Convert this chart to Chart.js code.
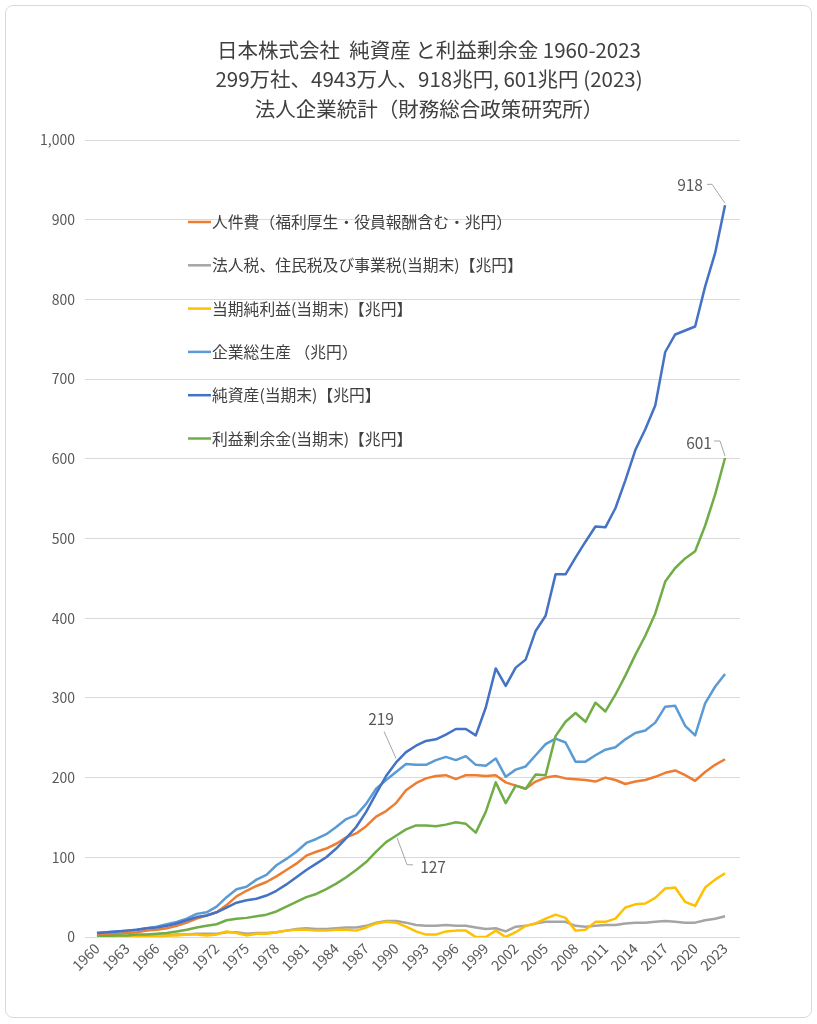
<!DOCTYPE html>
<html lang="ja">
<head>
<meta charset="UTF-8">
<title>日本株式会社 純資産と利益剰余金 1960-2023</title>
<script src="https://cdn.jsdelivr.net/npm/chart.js"></script>
<style>
  body { margin: 0; background: #fff; }
  .marco { position: relative; width: 817px; height: 1024px; }
  .borde { position: absolute; left: 5px; top: 5px; width: 805px; height: 1011px;
           border: 1px solid #d9d9d9; border-radius: 8px; pointer-events: none; }
  canvas { position: absolute; left: 0; top: 0; }
</style>
</head>
<body>
<div class="marco">
  <canvas id="graficoJapon"></canvas>
  <div class="borde"></div>
</div>

<script>
// 年度 (1960-2023)
const anios = [
  1960, 1961, 1962, 1963, 1964, 1965, 1966, 1967, 1968, 1969,
  1970, 1971, 1972, 1973, 1974, 1975, 1976, 1977, 1978, 1979,
  1980, 1981, 1982, 1983, 1984, 1985, 1986, 1987, 1988, 1989,
  1990, 1991, 1992, 1993, 1994, 1995, 1996, 1997, 1998, 1999,
  2000, 2001, 2002, 2003, 2004, 2005, 2006, 2007, 2008, 2009,
  2010, 2011, 2012, 2013, 2014, 2015, 2016, 2017, 2018, 2019,
  2020, 2021, 2022, 2023
];

// 軸に出す年 (3年おき)
const aniosEje = [1960, 1963, 1966, 1969, 1972, 1975, 1978, 1981, 1984, 1987, 1990,
                  1993, 1996, 1999, 2002, 2005, 2008, 2011, 2014, 2017, 2020, 2023];

const titulo = [
  "日本株式会社  純資産 と利益剰余金 1960-2023",
  "299万社、4943万人、918兆円, 601兆円 (2023)",
  "法人企業統計（財務総合政策研究所）"
];

// 人件費
const jinkenhi = [
  2, 3, 4, 5, 6, 8, 9, 11, 14, 18,
  23, 27, 31, 40, 51, 58, 64, 69, 76, 84,
  92, 102, 107, 111, 117, 125, 130, 139, 151, 158,
  168, 184, 193, 199, 202, 203, 198, 203, 203, 202,
  203, 194, 190, 186, 195, 200, 202, 199, 198, 197,
  195, 200, 197, 192, 195, 197, 201, 206, 209, 203,
  196, 207, 216, 223
];

// 法人税、住民税及び事業税
const hojinzei = [
  1, 1, 1, 1, 1, 1, 2, 2, 3, 3,
  4, 4, 4, 6, 6, 4, 5, 5, 6, 8,
  10, 11, 10, 10, 11, 12, 12, 14, 18, 20,
  20, 18, 15, 14, 14, 15, 14, 14, 12, 10,
  11, 7, 13, 14, 17, 19, 19, 19, 14, 13,
  14, 15, 15, 17, 18, 18, 19, 20, 19, 18,
  18, 21, 23, 26
];

// 当期純利益
const juntoeki = [
  1, 1, 1, 1, 1, 1, 1, 2, 2, 3,
  3, 2, 3, 7, 5, 2, 4, 4, 6, 8,
  9, 9, 8, 8, 9, 9, 8, 12, 17, 19,
  18, 13, 7, 3, 3, 7, 8, 8, 0, 0,
  8, 0, 6, 14, 17, 23, 28, 24, 8, 9,
  19, 19, 23, 37, 41, 42, 49, 61, 62, 44,
  39, 62, 72, 80
];

// 企業総生産
const sogosan = [
  5, 6, 7, 8, 9, 11, 13, 16, 19, 23,
  29, 31, 38, 50, 60, 63, 72, 78, 90, 98,
  107, 118, 123, 129, 138, 148, 153, 167, 186, 197,
  207, 217, 216, 216, 222, 226, 222, 227, 216, 215,
  224, 201, 210, 214, 228, 242, 249, 244, 220, 220,
  228, 235, 238, 248, 256, 259, 269, 289, 290, 265,
  253, 293, 314, 330
];

// 純資産
const junshisan = [
  5, 6, 7, 8, 9, 11, 12, 14, 17, 21,
  25, 27, 31, 37, 43, 46, 48, 52, 58, 66,
  75, 84, 92, 100, 111, 124, 138, 157, 180, 202,
  219, 232, 240, 246, 248, 254, 261, 261, 253, 288,
  337, 315, 338, 348, 384, 403, 455, 455, 476, 496,
  515, 514, 538, 573, 611, 637, 667, 734, 756, 761,
  766, 816, 858, 918
];

// 利益剰余金
const rieki = [
  1, 1, 2, 2, 3, 3, 4, 5, 7, 9,
  12, 14, 16, 21, 23, 24, 26, 28, 32, 38,
  44, 50, 54, 60, 67, 75, 84, 94, 107, 119,
  127, 135, 140, 140, 139, 141, 144, 142, 131, 157,
  194, 168, 190, 186, 204, 203, 252, 270, 281, 270,
  294, 283, 304, 328, 354, 378, 406, 446, 463, 475,
  484, 516, 555, 601
];

const series = [
  { label: "人件費（福利厚生・役員報酬含む・兆円）", valores: jinkenhi, color: "#ED7D31" },
  { label: "法人税、住民税及び事業税(当期末)【兆円】", valores: hojinzei, color: "#A5A5A5" },
  { label: "当期純利益(当期末)【兆円】", valores: juntoeki, color: "#FFC000" },
  { label: "企業総生産 （兆円）", valores: sogosan, color: "#5B9BD5" },
  { label: "純資産(当期末)【兆円】", valores: junshisan, color: "#4472C4" },
  { label: "利益剰余金(当期末)【兆円】", valores: rieki, color: "#70AD47" }
];

// 数値ラベル (引出線つき)
const etiquetas = [
  { serie: 4, anio: 2023, tx: -35, ty: -20, guia: [[-18, -21], [-13, -21], [0, -2]] },
  { serie: 5, anio: 2023, tx: -26, ty: -15, guia: [[-11, -17], [-5, -17], [0, -2]] },
  { serie: 4, anio: 1990, tx: -15, ty: -43, guia: [[-12, -31], [0, -4]] },
  { serie: 5, anio: 1990, tx: 37, ty: 31, guia: [[17, 29], [11, 29], [1, 2]] }
];

const fuente = "'Noto Sans CJK JP', 'Noto Sans', sans-serif";
Chart.defaults.font.family = fuente;
Chart.defaults.color = "#595959";

const tituloPlugin = {
  id: "titulo",
  afterDraw(chart) {
    const ctx = chart.ctx;
    ctx.save();
    ctx.fillStyle = "#404040";
    ctx.font = "20.5px " + fuente;
    ctx.textAlign = "center";
    ctx.textBaseline = "middle";
    titulo.forEach((t, i) => ctx.fillText(t, 429, 50 + i * 29.5));
    ctx.restore();
  }
};

const leyendaPlugin = {
  id: "leyendaInterna",
  afterDraw(chart) {
    const ctx = chart.ctx;
    ctx.save();
    ctx.font = "15.8px " + fuente;
    ctx.textBaseline = "middle";
    chart.data.datasets.forEach((ds, i) => {
      const y = 222 + i * 43.3;
      ctx.strokeStyle = ds.borderColor;
      ctx.lineWidth = 2.5;
      ctx.beginPath();
      ctx.moveTo(188, y);
      ctx.lineTo(211, y);
      ctx.stroke();
      ctx.fillStyle = "#404040";
      ctx.fillText(ds.label, 212, y);
    });
    ctx.restore();
  }
};

const etiquetasPlugin = {
  id: "etiquetasDatos",
  afterDatasetsDraw(chart) {
    const ctx = chart.ctx;
    const sx = chart.scales.x, sy = chart.scales.y;
    ctx.save();
    ctx.font = "15.5px " + fuente;
    ctx.textAlign = "center";
    ctx.textBaseline = "middle";
    etiquetas.forEach(e => {
      const i = anios.indexOf(e.anio);
      const v = series[e.serie].valores[i];
      const px = sx.getPixelForValue(e.anio);
      const py = sy.getPixelForValue(v);
      ctx.strokeStyle = "#a6a6a6";
      ctx.lineWidth = 1;
      ctx.beginPath();
      e.guia.forEach(([dx, dy], k) => {
        if (k === 0) ctx.moveTo(px + dx, py + dy); else ctx.lineTo(px + dx, py + dy);
      });
      ctx.stroke();
      ctx.fillStyle = "#595959";
      ctx.fillText(String(v), px + e.tx, py + e.ty);
    });
    ctx.restore();
  }
};

new Chart(document.getElementById("graficoJapon"), {
  type: "line",
  data: {
    datasets: series.map((s, i) => ({
      label: s.label,
      data: anios.map((a, k) => ({ x: a, y: s.valores[k] })),
      borderColor: s.color,
      backgroundColor: s.color,
      borderWidth: 2.5,
      pointRadius: 0,
      tension: 0,
      borderJoinStyle: "round",
      order: series.length - i
    }))
  },
  options: {
    responsive: true,
    maintainAspectRatio: false,
    animation: false,
    layout: { padding: { top: 140, right: 77, left: 0, bottom: 0 } },
    plugins: {
      legend: { display: false },
      title: { display: false },
      tooltip: { enabled: false }
    },
    scales: {
      x: {
        type: "linear",
        min: 1958.8,
        max: 2024.5,
        grid: { display: false, drawTicks: false },
        border: { display: false },
        ticks: {
          autoSkip: false,
          maxRotation: 45,
          minRotation: 45,
          padding: 3,
          font: { size: 14 },
          color: "#595959",
          callback: v => String(v)
        },
        afterBuildTicks: s => { s.ticks = aniosEje.map(v => ({ value: v })); },
        afterFit: s => { s.height = 87; }
      },
      y: {
        min: 0,
        max: 1000,
        grid: { color: "#d9d9d9", drawTicks: false },
        border: { display: false },
        ticks: {
          stepSize: 100,
          padding: 10,
          font: { size: 14 },
          color: "#595959",
          callback: v => v.toLocaleString("en-US")
        },
        afterFit: s => { s.width = 85; }
      }
    }
  },
  plugins: [tituloPlugin, leyendaPlugin, etiquetasPlugin]
});
</script>
</body>
</html>
